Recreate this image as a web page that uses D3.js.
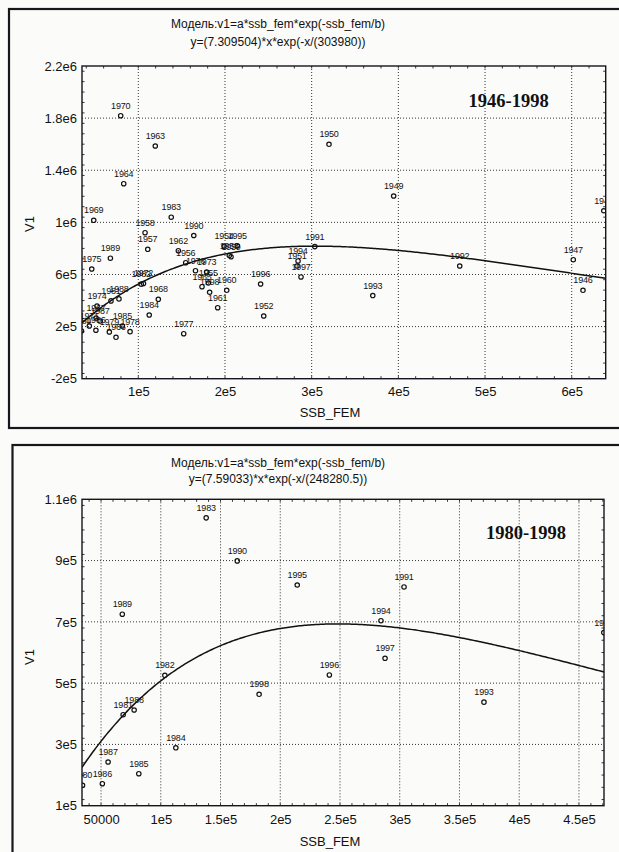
<!DOCTYPE html>
<html><head><meta charset="utf-8">
<script src="https://cdn.jsdelivr.net/npm/d3@7"></script>
<style>
body{margin:0;background:#fbfbf9;}
svg{display:block;}
text{font-family:"Liberation Sans",Arial,sans-serif;fill:#111;}
</style></head><body>
<svg id="c" width="619" height="852"></svg>
<script>
// ---------- data ----------
const years = [1946,1947,1948,1949,1950,1951,1952,1953,1954,1955,1956,1957,1958,1959,1960,1961,1962,1963,1964,1965,1966,1967,1968,1969,1970,1971,1972,1973,1974,1975,1976,1977,1978,1979,1980,1981,1982,1983,1984,1985,1986,1987,1988,1989,1990,1991,1992,1993,1994,1995,1996,1997,1998];
const ssbFem = [613000,601800,637000,394600,320000,283100,244700,205000,198900,180800,154700,110900,107800,207000,202000,191600,146200,119600,83200,173500,74300,51300,123100,48600,79700,43500,106000,178900,52400,46300,166000,152400,90500,66600,34500,68500,103400,138000,112600,81600,51100,55900,77700,67800,164000,303600,470800,370500,284300,214200,241100,287700,182300];
const v1Values = [478500,713400,1089000,1202200,1599000,665000,281200,745000,818500,534500,690300,793200,920600,736000,478500,345000,782400,1586000,1296700,506100,117800,265900,409400,1015700,1818600,204500,530700,619000,358000,642000,629000,145400,161000,158400,166600,397000,525600,1039500,289000,204400,171800,242600,412300,725000,899000,814000,665000,438000,703800,820300,526700,581100,463600];

// fitted model parameters (from the chart titles)
const fitA = [7.309504, 7.59033];
const fitB = [303980, 248280.5];

// tick values / labels
const xTicks1 = [100000,200000,300000,400000,500000,600000];
const xLabels1 = ["1e5","2e5","3e5","4e5","5e5","6e5"];
const yTicks1 = [-200000,200000,600000,1000000,1400000,1800000,2200000];
const yLabels1 = ["-2e5","2e5","6e5","1e6","1.4e6","1.8e6","2.2e6"];
const xTicks2 = [50000,100000,150000,200000,250000,300000,350000,400000,450000];
const xLabels2 = ["50000","1e5","1.5e5","2e5","2.5e5","3e5","3.5e5","4e5","4.5e5"];
const yTicks2 = [100000,300000,500000,700000,900000,1100000];
const yLabels2 = ["1e5","3e5","5e5","7e5","9e5","1.1e6"];

const titles1 = ["Модель:v1=a*ssb_fem*exp(-ssb_fem/b)","y=(7.309504)*x*exp(-x/(303980))"];
const titles2 = ["Модель:v1=a*ssb_fem*exp(-ssb_fem/b)","y=(7.59033)*x*exp(-x/(248280.5))"];
const periods = ["1946-1998","1980-1998"];

const rows = years.map((yr,i)=>({year:yr, x:ssbFem[i], y:v1Values[i]}));

// ---------- drawing ----------
const svg = d3.select('#c');
const defs = svg.append('defs');

function drawPanel(o, idx){
  const g = svg.append('g');
  g.append('rect').attr('x',o.frame[0]).attr('y',o.frame[1]).attr('width',o.frame[2]).attr('height',o.frame[3])
    .attr('fill','none').attr('stroke','#16161e').attr('stroke-width',2.2);
  o.titles.forEach((t,i)=>g.append('text').attr('x',o.titleX).attr('y',o.titleY[i])
    .attr('text-anchor','middle').style('font-size','12px').text(t));

  const P = o.plot;
  const x = d3.scaleLinear().domain(o.xDomain).range([P.l,P.r]);
  const y = d3.scaleLinear().domain(o.yDomain).range([P.b,P.t]);

  // grid
  const gx = o.xTicks.filter(v=>v>o.xDomain[0]&&v<o.xDomain[1]);
  const gy = o.yTicks.filter(v=>v>o.yDomain[0]&&v<o.yDomain[1]);
  g.append('g').selectAll('line').data(gx).join('line')
    .attr('x1',d=>x(d)).attr('x2',d=>x(d)).attr('y1',P.t).attr('y2',P.b)
    .attr('stroke','#333').attr('stroke-width',1).attr('stroke-dasharray','1,2');
  g.append('g').selectAll('line').data(gy).join('line')
    .attr('y1',d=>y(d)).attr('y2',d=>y(d)).attr('x1',P.l).attr('x2',P.r)
    .attr('stroke','#333').attr('stroke-width',1).attr('stroke-dasharray','1,2');

  // minor ticks
  const xs = (o.xTicks[1]-o.xTicks[0])/5, ys = (o.yTicks[1]-o.yTicks[0])/5;
  const mx = d3.range(Math.ceil(o.xDomain[0]/xs)*xs, o.xDomain[1], xs);
  const my = d3.range(Math.ceil(o.yDomain[0]/ys)*ys, o.yDomain[1], ys);
  const mg = g.append('g').attr('stroke','#333').attr('stroke-width',1);
  mx.forEach(v=>{ mg.append('line').attr('x1',x(v)).attr('x2',x(v)).attr('y1',P.b).attr('y2',P.b-2.5);
                  mg.append('line').attr('x1',x(v)).attr('x2',x(v)).attr('y1',P.t).attr('y2',P.t+2.5); });
  my.forEach(v=>{ mg.append('line').attr('y1',y(v)).attr('y2',y(v)).attr('x1',P.l).attr('x2',P.l+2.5);
                  mg.append('line').attr('y1',y(v)).attr('y2',y(v)).attr('x1',P.r).attr('x2',P.r-2.5); });

  // axes labels
  g.append('g').attr('transform',`translate(0,${P.b})`)
    .call(d3.axisBottom(x).tickValues(o.xTicks).tickFormat((d,i)=>o.xLabels[i]).tickSize(0).tickPadding(o.xPad))
    .call(s=>s.select('.domain').remove())
    .selectAll('text').style('font-size','13px').style('font-family','"Liberation Sans",Arial,sans-serif').attr('fill','#111');
  g.append('g').attr('transform',`translate(${P.l},0)`)
    .call(d3.axisLeft(y).tickValues(o.yTicks).tickFormat((d,i)=>o.yLabels[i]).tickSize(0).tickPadding(5))
    .call(s=>s.select('.domain').remove())
    .selectAll('text').style('font-size','13px').style('font-family','"Liberation Sans",Arial,sans-serif').attr('fill','#111');

  // plot border
  g.append('rect').attr('x',P.l).attr('y',P.t).attr('width',P.r-P.l).attr('height',P.b-P.t)
    .attr('fill','none').attr('stroke','#15151f').attr('stroke-width',1.4);

  // axis titles
  g.append('text').attr('x',330).attr('y',o.xTitleY).attr('text-anchor','middle').style('font-size','13px').text('SSB_FEM');
  g.append('text').attr('transform',`translate(34,${o.yTitleY}) rotate(-90)`).attr('text-anchor','middle').style('font-size','13px').text('V1');

  // period label
  g.append('text').attr('x',o.periodX).attr('y',o.periodY).attr('text-anchor','middle')
    .style('font-family','"Liberation Serif","Times New Roman",serif').style('font-weight','bold').style('font-size','18.5px')
    .text(o.period);

  // clipped content
  const cid = 'clip'+idx;
  defs.append('clipPath').attr('id',cid).append('rect').attr('x',P.l).attr('y',P.t).attr('width',P.r-P.l).attr('height',P.b-P.t);
  const c = g.append('g').attr('clip-path',`url(#${cid})`);

  const a = fitA[idx], b = fitB[idx];
  const xsamp = d3.range(0,301).map(i=>o.xDomain[0]+(o.xDomain[1]-o.xDomain[0])*i/300);
  c.append('path').datum(xsamp)
    .attr('d',d3.line().x(d=>x(d)).y(d=>y(a*d*Math.exp(-d/b))))
    .attr('fill','none').attr('stroke','#111').attr('stroke-width',1.5);

  const data = rows.filter(o.filter);
  c.selectAll('circle').data(data).join('circle')
    .attr('cx',d=>x(d.x)).attr('cy',d=>y(d.y)).attr('r',2.2)
    .attr('fill','none').attr('stroke','#111').attr('stroke-width',1.2);
  c.selectAll('text.lbl').data(data).join('text').attr('class','lbl')
    .attr('x',d=>x(d.x)).attr('y',d=>y(d.y)-7).attr('text-anchor','middle')
    .style('font-size','9px').style('letter-spacing','-0.2px').text(d=>d.year);
}

drawPanel({
  frame:[9,9,640,419], titles:titles1, titleX:278, titleY:[27.5,46],
  plot:{l:82,r:605.7,t:66,b:378.7}, xDomain:[35060,639200], yDomain:[-200000,2200000],
  xTicks:xTicks1, xLabels:xLabels1, yTicks:yTicks1, yLabels:yLabels1, xPad:8,
  xTitleY:417, yTitleY:224, period:periods[0], periodX:508.6, periodY:107,
  filter:d=>true
},0);

drawPanel({
  frame:[12.5,445,640,420], titles:titles2, titleX:278, titleY:[467,482.5],
  plot:{l:82,r:604,t:499.3,b:805.7}, xDomain:[34060,470970], yDomain:[100000,1100000],
  xTicks:xTicks2, xLabels:xLabels2, yTicks:yTicks2, yLabels:yLabels2, xPad:9,
  xTitleY:845.5, yTitleY:657, period:periods[1], periodX:526, periodY:539,
  filter:d=>d.year>=1980
},1);
</script>
</body></html>
